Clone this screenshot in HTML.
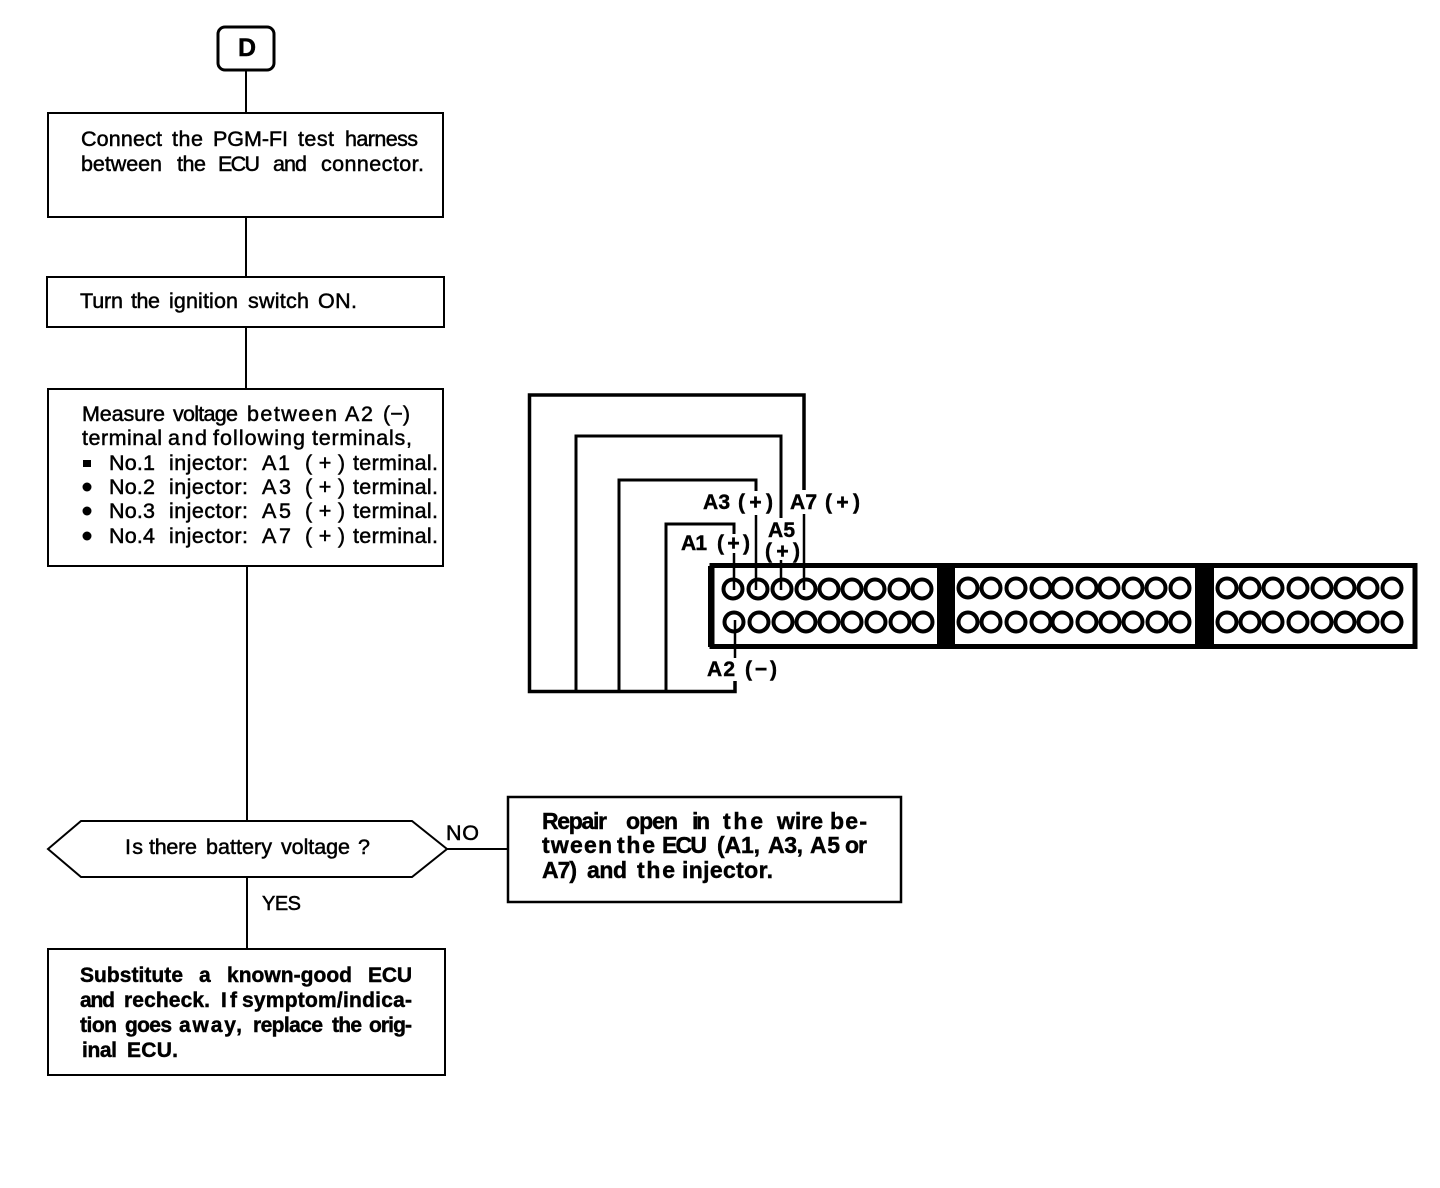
<!DOCTYPE html>
<html><head><meta charset="utf-8"><style>
html,body{margin:0;padding:0;background:#fff;width:1440px;height:1188px;overflow:hidden}
svg{display:block}
text{font-family:"Liberation Sans",sans-serif;font-size:21.5px;fill:#000;stroke:#000;stroke-width:.5px}
.b{font-weight:bold;font-size:21px;stroke-width:.45px}
.r{font-size:23px}
</style></head><body>
<svg width="1440" height="1188" viewBox="0 0 1440 1188" xmlns="http://www.w3.org/2000/svg">
<g fill="none" stroke="#000" stroke-width="2">
<rect x="218" y="27" width="56" height="43" rx="7" stroke-width="3"/>
<path d="M246 70V112M246 217V277M246 327V389M247 566V821M247 877V949M447 849H507"/>
<rect x="48" y="113" width="395" height="104"/>
<rect x="47" y="277" width="397" height="50"/>
<rect x="48" y="389" width="395" height="177"/>
<path d="M48 849L81 821H412L447 849L412 877H81Z"/>
<rect x="508" y="797" width="393" height="105" stroke-width="2.5"/>
<rect x="48" y="949" width="397" height="126"/>
</g>
<g fill="none" stroke="#000" stroke-width="3">
<path d="M804 490V395H529.500V691.500H735V681" stroke-width="3.500"/>
<path d="M781 518V436H576V691"/>
<path d="M756 491V480H619V691"/>
<path d="M734 534V524H666V691"/>
<path d="M804 514V590M781 560V590M756 515V590M734 553V590M735 620V658" stroke-width="2.500"/>
<rect x="712" y="565.500" width="703" height="81" stroke-width="5"/>
<path d="M710.500 566V647" stroke-width="5"/>
</g>
<rect x="937" y="565" width="18" height="82" fill="#000"/>
<rect x="1195" y="565" width="19" height="82" fill="#000"/>
<g fill="none" stroke="#000" stroke-width="4">
<circle cx="733" cy="589" r="9.500"/><circle cx="758" cy="589" r="9.500"/><circle cx="782" cy="589" r="9.500"/><circle cx="806" cy="589" r="9.500"/><circle cx="829" cy="589" r="9.500"/><circle cx="852" cy="589" r="9.500"/><circle cx="875" cy="589" r="9.500"/><circle cx="899" cy="589" r="9.500"/><circle cx="922" cy="589" r="9.500"/>
<circle cx="734" cy="622" r="9.500"/><circle cx="759" cy="622" r="9.500"/><circle cx="783" cy="622" r="9.500"/><circle cx="806" cy="622" r="9.500"/><circle cx="829" cy="622" r="9.500"/><circle cx="852" cy="622" r="9.500"/><circle cx="876" cy="622" r="9.500"/><circle cx="900" cy="622" r="9.500"/><circle cx="923" cy="622" r="9.500"/>
<circle cx="968" cy="588" r="9.500"/><circle cx="991" cy="588" r="9.500"/><circle cx="1016" cy="588" r="9.500"/><circle cx="1041" cy="588" r="9.500"/><circle cx="1062" cy="588" r="9.500"/><circle cx="1087" cy="588" r="9.500"/><circle cx="1109" cy="588" r="9.500"/><circle cx="1133" cy="588" r="9.500"/><circle cx="1156" cy="588" r="9.500"/><circle cx="1180" cy="588" r="9.500"/>
<circle cx="968" cy="622" r="9.500"/><circle cx="991" cy="622" r="9.500"/><circle cx="1016" cy="622" r="9.500"/><circle cx="1041" cy="622" r="9.500"/><circle cx="1062" cy="622" r="9.500"/><circle cx="1087" cy="622" r="9.500"/><circle cx="1110" cy="622" r="9.500"/><circle cx="1133" cy="622" r="9.500"/><circle cx="1157" cy="622" r="9.500"/><circle cx="1180" cy="622" r="9.500"/>
<circle cx="1227" cy="588" r="9.500"/><circle cx="1250" cy="588" r="9.500"/><circle cx="1273" cy="588" r="9.500"/><circle cx="1298" cy="588" r="9.500"/><circle cx="1322" cy="588" r="9.500"/><circle cx="1345" cy="588" r="9.500"/><circle cx="1368" cy="588" r="9.500"/><circle cx="1392" cy="588" r="9.500"/>
<circle cx="1227" cy="622" r="9.500"/><circle cx="1250" cy="622" r="9.500"/><circle cx="1273" cy="622" r="9.500"/><circle cx="1298" cy="622" r="9.500"/><circle cx="1322" cy="622" r="9.500"/><circle cx="1345" cy="622" r="9.500"/><circle cx="1368" cy="622" r="9.500"/><circle cx="1392" cy="622" r="9.500"/>
</g>
<rect x="83" y="460" width="8" height="7" fill="#000"/><circle cx="87" cy="487" r="4.500" fill="#000"/><circle cx="87" cy="511" r="4.500" fill="#000"/><circle cx="87" cy="536" r="4.500" fill="#000"/>
<text class="b" x="238" y="56" style="font-size:25px" textLength="18">D</text>

<text x="81" y="146" textLength="81">Connect</text><text x="172" y="146" textLength="31">the</text><text x="213" y="146" textLength="75">PGM-FI</text><text x="298" y="146" textLength="36">test</text><text x="345" y="146" textLength="73">harness</text>
<text x="81" y="171" textLength="81">between</text><text x="177" y="171" textLength="29">the</text><text x="218" y="171" textLength="42">ECU</text><text x="273" y="171" textLength="34">and</text><text x="321" y="171" textLength="103">connector.</text>

<text x="80" y="308" textLength="43">Turn</text><text x="131" y="308" textLength="29">the</text><text x="169" y="308" textLength="69">ignition</text><text x="248" y="308" textLength="61">switch</text><text x="318" y="308" textLength="39">ON.</text>

<text x="82" y="421" textLength="83">Measure</text><text x="173" y="421" textLength="65">voltage</text><text x="247" y="421" textLength="90">between</text><text x="345" y="421" textLength="28">A2</text><text x="383" y="421" textLength="27">(−)</text>
<text x="82" y="445" textLength="80">terminal</text><text x="168" y="445" textLength="39">and</text><text x="213" y="445" textLength="92">following</text><text x="312" y="445" textLength="100">terminals,</text>
<text x="109" y="470" textLength="46">No.1</text><text x="169" y="470" textLength="79">injector:</text><text x="262" y="470" textLength="28">A1</text><text x="305" y="470" textLength="40">(+)</text><text x="353" y="470" textLength="85">terminal.</text>
<text x="109" y="494" textLength="46">No.2</text><text x="169" y="494" textLength="79">injector:</text><text x="262" y="494" textLength="29">A3</text><text x="305" y="494" textLength="40">(+)</text><text x="353" y="494" textLength="85">terminal.</text>
<text x="109" y="518" textLength="46">No.3</text><text x="169" y="518" textLength="79">injector:</text><text x="262" y="518" textLength="29">A5</text><text x="305" y="518" textLength="40">(+)</text><text x="353" y="518" textLength="85">terminal.</text>
<text x="109" y="543" textLength="46">No.4</text><text x="169" y="543" textLength="79">injector:</text><text x="262" y="543" textLength="29">A7</text><text x="305" y="543" textLength="40">(+)</text><text x="353" y="543" textLength="85">terminal.</text>

<text x="125" y="854" textLength="18">Is</text><text x="149" y="854" textLength="48">there</text><text x="206" y="854" textLength="66">battery</text><text x="281" y="854" textLength="69">voltage</text><text x="358" y="854" textLength="11">?</text>
<text x="446" y="840" textLength="33">NO</text>
<text x="262" y="910" textLength="39" style="font-size:20px">YES</text>

<text class="b r" x="542" y="829" textLength="65">Repair</text><text class="b r" x="626" y="829" textLength="52">open</text><text class="b r" x="692" y="829" textLength="18">in</text><text class="b r" x="723" y="829" textLength="40">the</text><text class="b r" x="777" y="829" textLength="46">wire</text><text class="b r" x="830" y="829" textLength="37">be-</text>
<text class="b r" x="542" y="853" textLength="70">tween</text><text class="b r" x="617" y="853" textLength="38">the</text><text class="b r" x="662" y="853" textLength="45">ECU</text><text class="b r" x="717" y="853" textLength="43">(A1,</text><text class="b r" x="768" y="853" textLength="35">A3,</text><text class="b r" x="810" y="853" textLength="30">A5</text><text class="b r" x="845" y="853" textLength="22">or</text>
<text class="b r" x="542" y="878" textLength="35">A7)</text><text class="b r" x="587" y="878" textLength="40">and</text><text class="b r" x="637" y="878" textLength="38">the</text><text class="b r" x="682" y="878" textLength="91">injector.</text>

<text class="b" x="80" y="982" textLength="103">Substitute</text><text class="b" x="199" y="982" textLength="11">a</text><text class="b" x="227" y="982" textLength="125">known-good</text><text class="b" x="368" y="982" textLength="44">ECU</text>
<text class="b" x="80" y="1007" textLength="35">and</text><text class="b" x="124" y="1007" textLength="86">recheck.</text><text class="b" x="221" y="1007" textLength="16">If</text><text class="b" x="242" y="1007" textLength="170">symptom/indica-</text>
<text class="b" x="80" y="1032" textLength="37">tion</text><text class="b" x="125" y="1032" textLength="47">goes</text><text class="b" x="179" y="1032" textLength="63">away,</text><text class="b" x="253" y="1032" textLength="70">replace</text><text class="b" x="332" y="1032" textLength="30">the</text><text class="b" x="369" y="1032" textLength="43">orig-</text>
<text class="b" x="82" y="1057" textLength="35">inal</text><text class="b" x="127" y="1057" textLength="51">ECU.</text>

<text class="b" x="703" y="509" textLength="27">A3</text><text class="b" x="738" y="509" textLength="35">(+)</text>
<text class="b" x="790" y="509" textLength="27">A7</text><text class="b" x="825" y="509" textLength="35">(+)</text>
<text class="b" x="768" y="537" textLength="27">A5</text>
<text class="b" x="765" y="558" textLength="35">(+)</text>
<text class="b" x="681" y="550" textLength="26">A1</text><text class="b" x="717" y="550" textLength="33">(+)</text>
<text class="b" x="707" y="676" textLength="28">A2</text><text class="b" x="745" y="676" textLength="32">(−)</text>
</svg>
</body></html>
